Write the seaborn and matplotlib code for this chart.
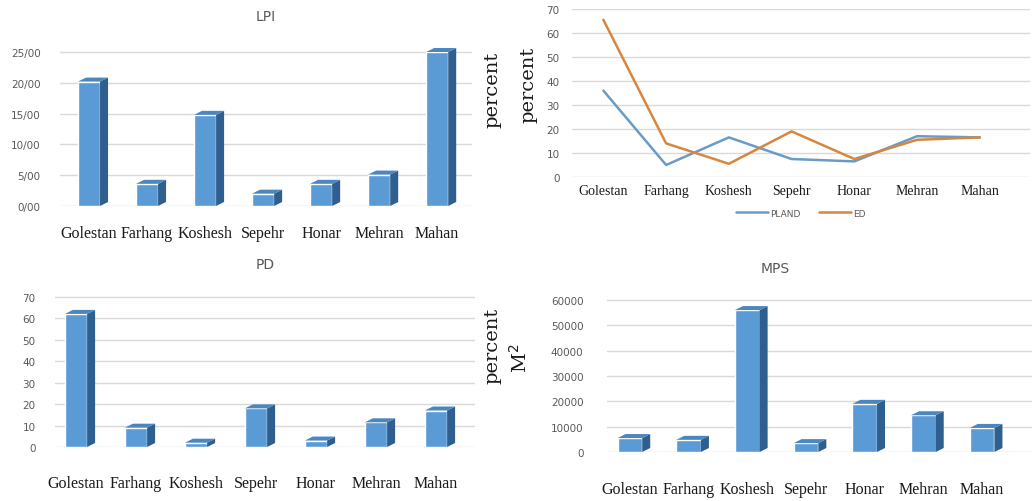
import numpy as np
import pandas as pd
import seaborn as sns
import matplotlib
matplotlib.use("Agg")
from matplotlib import pyplot as plt
from matplotlib.patches import Polygon
from matplotlib.transforms import IdentityTransform

categories = ["Golestan", "Farhang", "Koshesh", "Sepehr", "Honar", "Mehran", "Mahan"]
lpi = [20.2, 3.6, 14.8, 2.0, 3.6, 5.1, 25.0]
pland = [36.0, 5.0, 16.5, 7.5, 6.5, 17.0, 16.5]
ed = [65.5, 14.0, 5.5, 19.0, 7.5, 15.5, 16.5]
pd_vals = [62.0, 9.0, 2.0, 18.0, 3.0, 11.5, 17.0]
mps = [5500, 4800, 56000, 3500, 19000, 14500, 9500]

lpi_ticks = [0, 5, 10, 15, 20, 25]
lpi_tick_labels = ["0/00", "5/00", "10/00", "15/00", "20/00", "25/00"]
ten_ticks = [0, 10, 20, 30, 40, 50, 60, 70]
mps_ticks = [0, 10000, 20000, 30000, 40000, 50000, 60000]

W, H = 1032, 502
FRONT = "#5B9BD5"
SIDE = "#2F5F8E"
TOP = "#4A86C0"
GRAY = "#595959"
GRID = "#D9D9D9"

sns.set_theme(style="white")
plt.rcParams["font.family"] = ["DejaVu Sans"]

fig = plt.figure(figsize=(W / 100, H / 100), dpi=100)


def box(l, t, r, b):
    return [l / W, 1 - b / H, (r - l) / W, (b - t) / H]


def style(ax, ticks, xpad, ypad, xsize=11.5):
    sns.despine(ax=ax, left=True, bottom=True)
    ax.set_yticks(ticks)
    ax.yaxis.grid(True, color=GRID, linewidth=1)
    ax.xaxis.grid(False)
    ax.set_axisbelow(True)
    ax.tick_params(axis="y", length=0, pad=ypad, labelsize=7.5, labelcolor=GRAY)
    ax.tick_params(axis="x", length=0, pad=xpad, labelsize=xsize, labelcolor="#1a1a1a")
    for lab in ax.get_xticklabels():
        lab.set_family("Liberation Serif")
    ax.set_xlabel("")
    ax.set_ylabel("")


def add_depth(ax, dx=8, dy=4):
    fig.canvas.draw()
    for p in list(ax.patches):
        x0, y0 = p.get_x(), p.get_y()
        x1, y1 = x0 + p.get_width(), y0 + p.get_height()
        (a0, b0), (a1, b1) = ax.transData.transform([(x0, y0), (x1, y1)])
        side = Polygon([(a1, b0), (a1 + dx, b0 + dy), (a1 + dx, b1 + dy), (a1, b1)],
                       closed=True, facecolor=SIDE, edgecolor="none",
                       transform=IdentityTransform(), zorder=p.get_zorder())
        top = Polygon([(a0, b1), (a0 + dx, b1 + dy), (a1 + dx, b1 + dy), (a1, b1)],
                      closed=True, facecolor=TOP, edgecolor="none",
                      transform=IdentityTransform(), zorder=p.get_zorder())
        fig.add_artist(side)
        fig.add_artist(top)


# LPI
ax1 = fig.add_axes(box(60, 37.6, 472, 207))
sns.barplot(x=categories, y=lpi, color=FRONT, saturation=1, width=0.38, ax=ax1)
ax1.set_ylim(0, 27.5)
ax1.set_xlim(-0.5, 6.6)
style(ax1, lpi_ticks, 14, 14)
ax1.set_yticklabels(lpi_tick_labels)
ax1.set_title("LPI", fontsize=10, color=GRAY, y=1.05)

# PD
ax3 = fig.add_axes(box(55, 287, 475, 448))
sns.barplot(x=categories, y=pd_vals, color=FRONT, saturation=1, width=0.37, ax=ax3)
ax3.set_ylim(0, 75)
ax3.set_xlim(-0.35, 6.65)
style(ax3, ten_ticks, 20, 14)
ax3.set_title("PD", fontsize=10, color=GRAY, y=1.06)

# PLAND / ED lines
df = pd.DataFrame({"site": categories * 2,
                   "value": pland + ed,
                   "index": ["PLAND"] * 7 + ["ED"] * 7})
ax2 = fig.add_axes(box(572, 10, 1030, 178))
sns.lineplot(data=df, x="site", y="value", hue="index", sort=False,
             palette={"PLAND": "#6A9BC7", "ED": "#D6873F"}, linewidth=1.8, ax=ax2)
ax2.set_ylim(0, 70)
ax2.set_xlim(-0.5, 6.8)
style(ax2, ten_ticks, 5, 9, xsize=10)
ax2.legend(loc="upper center", bbox_to_anchor=(0.5, -0.14), ncol=2, frameon=False,
           fontsize=6.5, labelcolor=GRAY, handlelength=3.5, columnspacing=2,
           handletextpad=0.3)

# MPS
ax4 = fig.add_axes(box(607, 288, 1032, 453))
sns.barplot(x=categories, y=mps, color=FRONT, saturation=1, width=0.42, ax=ax4)
ax4.set_ylim(0, 65100)
ax4.set_xlim(-0.39, 6.85)
style(ax4, mps_ticks, 21, 17)
ax4.set_title("MPS", fontsize=10, color=GRAY, pad=11, x=0.395)

for ax in (ax1, ax3, ax4):
    add_depth(ax)

# side labels
lab = dict(rotation=90, ha="center", va="center", fontsize=14,
           family="DejaVu Serif", color="#1a1a1a")
fig.text(492 / W, 1 - 90 / H, "percent", **lab)
fig.text(528 / W, 1 - 85 / H, "percent", **lab)
fig.text(492 / W, 1 - 346 / H, "percent", **lab)
fig.text(520 / W, 1 - 358 / H, "M$^{2}$", **lab)

fig.savefig("out.png", dpi=100)
